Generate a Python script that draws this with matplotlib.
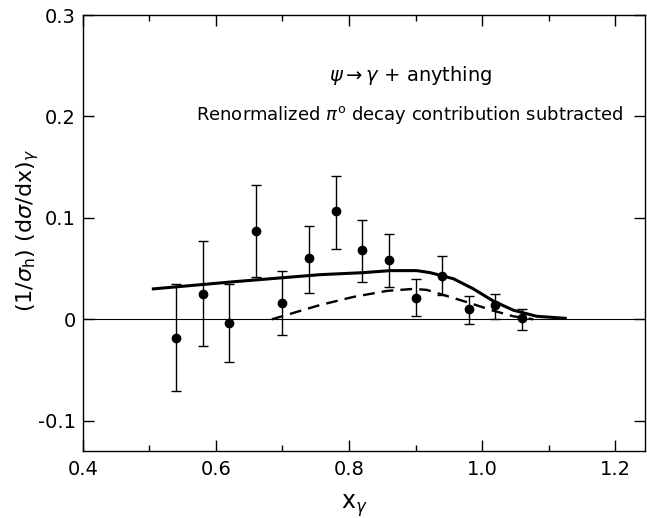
import matplotlib.pyplot as plt
from matplotlib.ticker import MultipleLocator

# measured points: x_gamma, value, errors (lower, upper)
x_pts = [0.54, 0.58, 0.62, 0.66, 0.70, 0.74, 0.78, 0.82, 0.86, 0.90, 0.94, 0.98, 1.02, 1.06]
y_pts = [-0.018, 0.025, -0.004, 0.087, 0.016, 0.060, 0.107, 0.068, 0.058, 0.021, 0.043, 0.010, 0.014, 0.001]
err_up = [0.053, 0.052, 0.039, 0.045, 0.032, 0.032, 0.034, 0.030, 0.026, 0.019, 0.019, 0.013, 0.011, 0.009]
err_lo = [0.053, 0.051, 0.038, 0.045, 0.031, 0.034, 0.038, 0.031, 0.026, 0.018, 0.019, 0.015, 0.014, 0.012]

# solid curve
solid_x = [0.506, 0.626, 0.756, 0.821, 0.862, 0.902, 0.922, 0.957, 0.987, 1.017, 1.047, 1.082, 1.125]
solid_y = [0.030, 0.037, 0.044, 0.046, 0.048, 0.048, 0.046, 0.040, 0.030, 0.018, 0.009, 0.003, 0.001]

# dashed curve
dash_x = [0.684, 0.756, 0.806, 0.857, 0.897, 0.917, 0.947, 0.977, 1.017, 1.047, 1.077]
dash_y = [0.000, 0.014, 0.022, 0.028, 0.030, 0.029, 0.023, 0.017, 0.0085, 0.003, 0.000]

x_ticks = [0.4, 0.6, 0.8, 1.0, 1.2]
x_ticklabels = ["0.4", "0.6", "0.8", "1.0", "1.2"]
y_ticks = [-0.1, 0.0, 0.1, 0.2, 0.3]
y_ticklabels = ["-0.1", "0", "0.1", "0.2", "0.3"]

fig = plt.figure(figsize=(6.47, 5.18), dpi=100)
ax = fig.add_axes([0.128, 0.129, 0.869, 0.842])

ax.axhline(0, color="black", lw=0.8, zorder=1)
ax.plot(solid_x, solid_y, color="black", lw=2.2, solid_joinstyle="round", zorder=2)
ax.plot(dash_x, dash_y, color="black", lw=1.7, dashes=(5, 3), zorder=2)
ax.errorbar(x_pts, y_pts, yerr=[err_lo, err_up], fmt="o", color="black",
            ms=6, elinewidth=1.0, capsize=3.8, capthick=1.0, zorder=3)

ax.set_xlim(0.4, 1.245)
ax.set_ylim(-0.13, 0.3)
ax.set_xticks(x_ticks)
ax.set_xticklabels(x_ticklabels)
ax.xaxis.set_minor_locator(MultipleLocator(0.1))
ax.set_yticks(y_ticks)
ax.set_yticklabels(y_ticklabels)

ax.tick_params(which="both", direction="in", top=True, right=True, labelsize=14, width=1.0)
ax.tick_params(which="major", length=8)
ax.tick_params(axis="y", pad=5)
ax.tick_params(axis="x", pad=6)
ax.tick_params(which="minor", length=4)
for sp in ax.spines.values():
    sp.set_linewidth(1.0)

ax.text(0.892, 0.240, r"$\psi \rightarrow \gamma$ + anything", ha="center", va="center", fontsize=14)
ax.text(1.213, 0.201, r"Renormalized $\pi^{\rm o}$ decay contribution subtracted",
        ha="right", va="center", fontsize=13)

ax.set_xlabel(r"x$_\gamma$", fontsize=17)
ax.set_ylabel(r"(1/$\sigma_{\rm h}$) (d$\sigma$/dx)$_\gamma$", fontsize=16)
ax.xaxis.set_label_coords(0.483, -0.095)
ax.yaxis.set_label_coords(-0.075, 0.507)

fig.savefig("out.png", dpi=100)
